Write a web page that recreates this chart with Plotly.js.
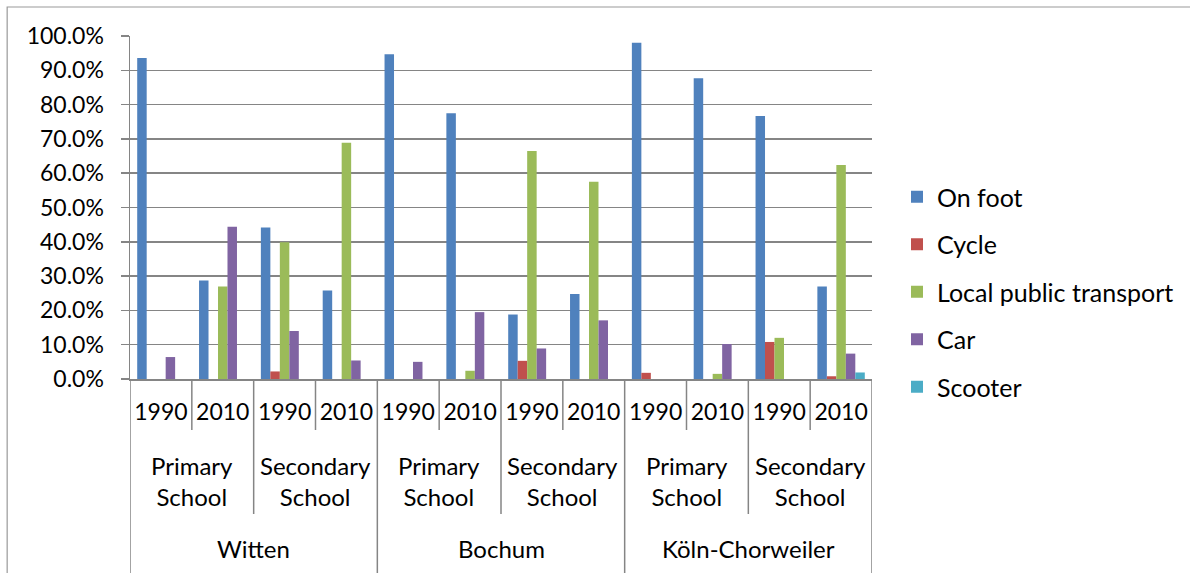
<!DOCTYPE html>
<html>
<head>
<meta charset="utf-8">
<script src="https://cdn.plot.ly/plotly-3.0.1.min.js"></script>
<style>html,body{margin:0;padding:0;background:#fff;}#chart{width:1190px;height:573px;}</style>
</head>
<body>
<div id="chart"></div>
<script>
// ---- data ----
const cities = ["Witten", "Bochum", "Köln-Chorweiler"];
const schools = ["Primary<br>School", "Secondary<br>School"];
const years = ["1990", "2010"];
const seriesNames = ["On foot", "Cycle", "Local public transport", "Car", "Scooter"];
const seriesColors = ["#4F81BD", "#C0504D", "#9BBB59", "#8064A2", "#4BACC6"];
// values in percent, order: Witten P1990, P2010, S1990, S2010, Bochum ..., Köln ...
const onFoot    = [93.6, 28.7, 44.2, 25.8, 94.7, 77.5, 18.8, 24.8, 98.0, 87.7, 76.7, 27.0];
const cycle     = [0,    0,    2.2,  0,    0,    0,    5.3,  0,    1.8,  0,    10.8, 0.8];
const transport = [0,    27.0, 39.9, 68.9, 0,    2.4,  66.5, 57.5, 0,    1.5,  12.0, 62.4];
const car       = [6.4,  44.4, 14.0, 5.4,  5.0,  19.5, 8.9,  17.1, 0,    10.2, 0,    7.4];
const scooter   = [0,    0,    0,    0,    0,    0,    0,    0,    0,    0,    0,    1.9];
const seriesValues = [onFoot, cycle, transport, car, scooter];

// ---- categories ----
const cats = [], catYears = [];
cities.forEach(c => schools.forEach(s => years.forEach(y => {
  cats.push(c + " | " + s.replace("<br>", " ") + " | " + y);
  catYears.push(y);
})));

const FONT = "Lato, 'Open Sans', sans-serif";
const FS = 23;
const FS_GROUP = 24;
const FS_LEGEND = 25;
const GRID = "#858585";

const traces = seriesNames.map((n, i) => ({
  type: "bar", name: n, x: cats, y: seriesValues[i],
  marker: {color: seriesColors[i]}, legendgroup: "g" + i, hoverinfo: "skip"
}));

// geometry helpers (plot area: 130..873 x, 36..379 y)
const plotH = 343;
const py = px => (379 - px) / plotH;

const shapes = [];
const nCat = cats.length;
for (let b = 0; b <= nCat; b++) {
  const xb = b - 0.5;
  let yEnd;
  if (b % 4 === 0) yEnd = 573 + 10;      // city boundaries and edges
  else if (b % 2 === 0) yEnd = 514;      // school boundaries
  else yEnd = 430;                        // year boundaries
  shapes.push({type: "line", xref: "x", yref: "paper", x0: xb, x1: xb, y0: 0, y1: py(yEnd),
               line: {color: GRID, width: 1.5}});
}
// outer chart border
shapes.push({type: "rect", xref: "paper", yref: "paper",
  x0: (7 - 130) / 743, x1: (1200 - 130) / 743, y0: py(7), y1: py(610),
  line: {color: "#9a9a9a", width: 1.2}, fillcolor: "rgba(0,0,0,0)"});

const annotations = [];
schools.forEach((s, si) => cities.forEach((c, ci) => {
  const xc = ci * 4 + si * 2 + 0.5;
  annotations.push({xref: "x", yref: "paper", x: xc, y: py(481), text: s, showarrow: false,
    font: {family: FONT, size: FS_GROUP, color: "#000"}, yanchor: "middle", xanchor: "center"});
}));
cities.forEach((c, ci) => {
  annotations.push({xref: "x", yref: "paper", x: ci * 4 + 1.5, y: py(548), text: c, showarrow: false,
    font: {family: FONT, size: FS_GROUP, color: "#000"}, yanchor: "middle", xanchor: "center"});
});

const layout = {
  width: 1190, height: 573,
  margin: {l: 130, r: 317, t: 36, b: 194, pad: 0},
  paper_bgcolor: "#fff", plot_bgcolor: "#fff",
  font: {family: FONT, size: FS, color: "#000"},
  barmode: "group", bargap: 0.233, bargroupgap: 0,
  xaxis: {
    type: "category", range: [-0.5, nCat - 0.5],
    tickmode: "array", tickvals: cats, ticktext: catYears,
    ticks: "", showgrid: false, showline: true, linecolor: GRID, linewidth: 1.5,
    tickfont: {family: FONT, size: FS, color: "#000"}, ticklabelstandoff: 12,
    fixedrange: true
  },
  yaxis: {
    range: [0, 100], dtick: 10, tick0: 0, tickformat: ".1f", ticksuffix: "%",
    showgrid: true, gridcolor: GRID, gridwidth: 1.5,
    showline: true, linecolor: GRID, linewidth: 1.5,
    ticks: "outside", ticklen: 8, tickcolor: GRID, tickwidth: 1.5,
    zeroline: false, tickfont: {family: FONT, size: FS, color: "#000"},
    ticklabelstandoff: 12, fixedrange: true
  },
  legend: {
    x: (897 - 130) / 743, xanchor: "left", y: py(174), yanchor: "top",
    traceorder: "grouped", tracegroupgap: 12,
    font: {family: FONT, size: FS_LEGEND, color: "#000"}, bgcolor: "rgba(0,0,0,0)"
  },
  shapes: shapes, annotations: annotations,
  showlegend: true
};

Plotly.newPlot("chart", traces, layout, {displayModeBar: false, staticPlot: true});
</script>
</body>
</html>
